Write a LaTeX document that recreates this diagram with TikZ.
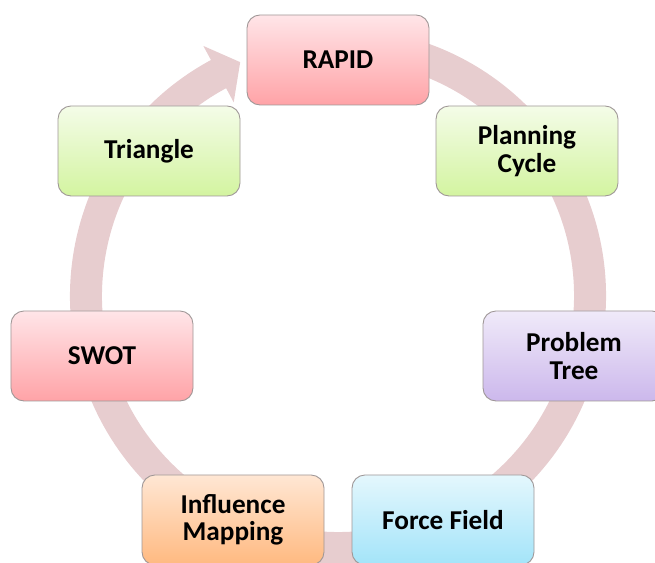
\documentclass[tikz,border=0pt]{standalone}
\usepackage{fontspec}
\setmainfont{Carlito}
\usepackage{xcolor}
\usepackage{tikz}
\usetikzlibrary{positioning,calc}

\definecolor{ringpink}{RGB}{231,205,207}
\definecolor{boxline}{RGB}{158,150,150}
\definecolor{redtop}{RGB}{255,229,232}
\definecolor{redbot}{RGB}{255,163,167}
\definecolor{greentop}{RGB}{244,252,232}
\definecolor{greenbot}{RGB}{211,244,160}
\definecolor{purpletop}{RGB}{240,234,249}
\definecolor{purplebot}{RGB}{204,184,236}
\definecolor{bluetop}{RGB}{228,247,253}
\definecolor{bluebot}{RGB}{163,228,249}
\definecolor{orangetop}{RGB}{255,231,212}
\definecolor{orangebot}{RGB}{255,185,128}

\tikzset{
    stage/.style={draw=boxline, line width=0.5pt, rounded corners=0.26cm,
        minimum width=3.64cm, minimum height=1.8cm, align=center, inner sep=2pt,
        font=\bfseries\fontsize{15.5}{15.7}\selectfont},
    redstage/.style={stage, top color=redtop, bottom color=redbot},
    greenstage/.style={stage, top color=greentop, bottom color=greenbot},
    purplestage/.style={stage, top color=purpletop, bottom color=purplebot},
    bluestage/.style={stage, top color=bluetop, bottom color=bluebot},
    orangestage/.style={stage, top color=orangetop, bottom color=orangebot}
}

\begin{document}
\begin{tikzpicture}
    \useasboundingbox (0,0) rectangle (13.1,11.26);
    \clip (0,0) rectangle (13.1,11.26);

    % cycle arrow behind the boxes
    \coordinate (ring) at (6.76,5.34);
    \draw[ringpink, line width=0.64cm] ([shift={(80:5.04)}]ring) arc[start angle=80, end angle=-242, radius=5.04];
    \fill[ringpink] ([shift={(118.3:5.68)}]ring) -- ([shift={(112.7:5.07)}]ring) -- ([shift={(118.3:4.40)}]ring) -- cycle;

    % stages
    \node[redstage] (rapid) at (6.76,10.06) {RAPID};
    \node[greenstage] (planning) at (10.54,8.24) {Planning\\Cycle};
    \node[purplestage] (problem) at (11.48,4.14) {Problem\\Tree};
    \node[bluestage] (force) at (8.86,0.86) {Force Field};
    \node[orangestage] (influence) at (4.66,0.86) {Influence\\Mapping};
    \node[redstage] (swot) at (2.04,4.14) {SWOT};
    \node[greenstage] (triangle) at (2.98,8.24) {Triangle};
\end{tikzpicture}
\end{document}
